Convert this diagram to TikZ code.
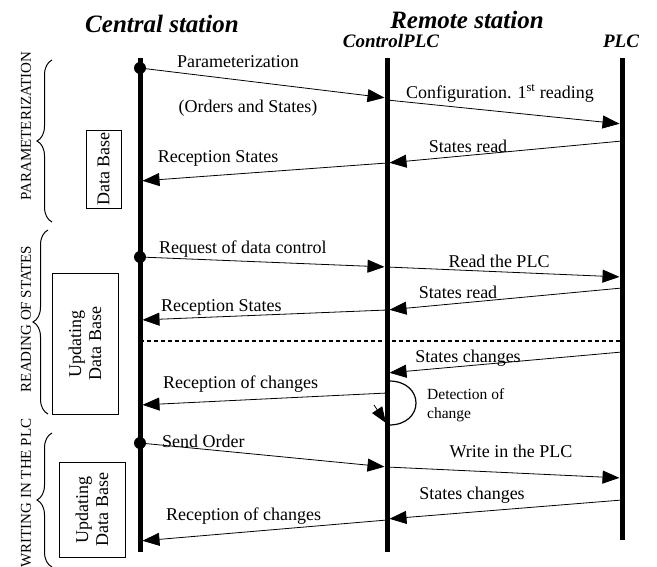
\documentclass[tikz,border=0pt]{standalone}
\usepackage{fontspec}
\setmainfont{Liberation Serif}
\usetikzlibrary{arrows.meta,decorations.pathreplacing}
\begin{document}
\begin{tikzpicture}[x=1pt,y=-1pt,
  life/.style={line width=5pt},
  msg/.style={line width=0.8pt,shorten >=2.5pt,-{Triangle[length=17pt,width=13pt]}},
  lbl/.style={font=\fontsize{18}{20}\selectfont,inner sep=0pt,anchor=base},
  lblw/.style={lbl,anchor=base west},
  title/.style={font=\fontsize{25}{28}\selectfont\bfseries\itshape,inner sep=0pt,anchor=base},
  subtitle/.style={font=\fontsize{19}{22}\selectfont\bfseries\itshape,inner sep=0pt,anchor=base},
  phase/.style={font=\fontsize{15}{17}\selectfont,inner sep=0pt,rotate=90},
  dbbox/.style={draw,line width=1pt,rotate=90,inner sep=0pt,align=center,
    font=\fontsize{18}{20}\selectfont},
  bracestyle/.style={decorate,decoration={brace,amplitude=15pt},line width=1pt},
  startdot/.style={fill=black},
]
\useasboundingbox (0,0) rectangle (657,566);

% titles
\node[title] (tcent) at (162,32) {Central station};
\node[title] (trem) at (467,28) {Remote station};
\node[subtitle] (tctrl) at (391,47) {ControlPLC};
\node[subtitle] (tplc) at (621,47) {PLC};

% lifelines
\coordinate (CT) at (140,58); \coordinate (CB) at (140,552);
\coordinate (RT) at (387,58); \coordinate (RB) at (387,552);
\coordinate (PT) at (622,58); \coordinate (PB) at (622,540);
\draw[life] (CT) -- (CB);
\draw[life] (RT) -- (RB);
\draw[life] (PT) -- (PB);

% phase braces and labels
\draw[bracestyle] (52,222) -- (52,60);
\draw[bracestyle] (48,414) -- (48,230);
\draw[bracestyle] (52,567) -- (52,433);
\node[phase] (ph1) at (26,126) {PARAMETERIZATION};
\node[phase] (ph2) at (26,319) {READING OF STATES};
\node[phase] (ph3) at (26,493) {WRITING IN THE PLC};

% data base boxes
\node[dbbox,minimum width=78pt,minimum height=35pt] (db1) at (103.5,169) {Data Base};
\node[dbbox,minimum width=141pt,minimum height=66pt] (db2) at (85,343.5) {Updating\\Data Base};
\node[dbbox,minimum width=95pt,minimum height=66pt] (db3) at (92,509.5) {Updating\\Data Base};

% ---- Parameterization phase
\coordinate (c1) at (140,68);  \coordinate (r1) at (387,98);
\coordinate (r2) at (387,100); \coordinate (p2) at (622,124);
\coordinate (p3) at (622,141); \coordinate (r3) at (387,163);
\coordinate (r4) at (387,163); \coordinate (c4) at (140,181);
\fill[startdot] (c1) circle[radius=6pt];
\draw[msg] (c1) -- (r1);
\draw[msg] (r2) -- (p2);
\draw[msg] (p3) -- (r3);
\draw[msg] (r4) -- (c4);
\node[lbl] (l1) at (238,67) {Parameterization};
\node[lbl] (l1b) at (248,112) {(Orders and States)};
\node[lbl] (l2) at (500,98) {Configuration. 1\textsuperscript{st} reading};
\node[lbl] (l3) at (468,152) {States read};
\node[lbl] (l4) at (218,162) {Reception States};

% ---- Reading of states phase
\coordinate (c5) at (140,257); \coordinate (r5) at (387,267);
\coordinate (r6) at (387,267); \coordinate (p6) at (622,277);
\coordinate (p7) at (622,288); \coordinate (r7) at (387,310);
\coordinate (r8) at (387,310); \coordinate (c8) at (140,320);
\fill[startdot] (c5) circle[radius=6pt];
\draw[msg] (c5) -- (r5);
\draw[msg] (r6) -- (p6);
\draw[msg] (p7) -- (r7);
\draw[msg] (r8) -- (c8);
\node[lblw] (l5) at (159,253) {Request of data control};
\node[lbl] (l6) at (499,267) {Read the PLC};
\node[lbl] (l7) at (458,298) {States read};
\node[lblw] (l8) at (161,311) {Reception States};

\coordinate (d1) at (140,341); \coordinate (d2) at (622,341);
\draw[line width=1.2pt,dash pattern=on 4pt off 3pt] (d1) -- (d2);

\coordinate (p9) at (622,352); \coordinate (r9) at (387,373);
\coordinate (r10) at (387,393); \coordinate (c10) at (140,405);
\draw[msg] (p9) -- (r9);
\draw[msg] (r10) -- (c10);
\node[lbl] (l9) at (468,362) {States changes};
\node[lblw] (l10) at (163,388) {Reception of changes};

% detection loop
\coordinate (la) at (389,381); \coordinate (lb) at (389,425);
\draw[line width=1.2pt] (la) .. controls (425,381) and (425,425) .. (lb);
\coordinate (ha) at (374,405); \coordinate (hb) at (386,423);
\draw[line width=0.8pt,-{Triangle[length=16pt,width=12pt]}] (ha) -- (hb);
\node[font=\fontsize{15.5}{19}\selectfont,align=left,anchor=north west,inner sep=0pt] (ldet) at (427,388) {Detection of\\change};

% ---- Writing phase
\coordinate (c11) at (140,443); \coordinate (r11) at (387,467);
\coordinate (r12) at (387,467); \coordinate (p12) at (622,478);
\coordinate (p13) at (622,500); \coordinate (r13) at (387,519);
\coordinate (r14) at (387,520); \coordinate (c14) at (140,541);
\fill[startdot] (c11) circle[radius=6pt];
\draw[msg] (c11) -- (r11);
\draw[msg] (r12) -- (p12);
\draw[msg] (p13) -- (r13);
\draw[msg] (r14) -- (c14);
\node[lblw] (l11) at (162,447) {Send Order};
\node[lbl] (l12) at (511,457) {Write in the PLC};
\node[lbl] (l13) at (472,499) {States changes};
\node[lblw] (l14) at (166,520) {Reception of changes};
\end{tikzpicture}
\end{document}
